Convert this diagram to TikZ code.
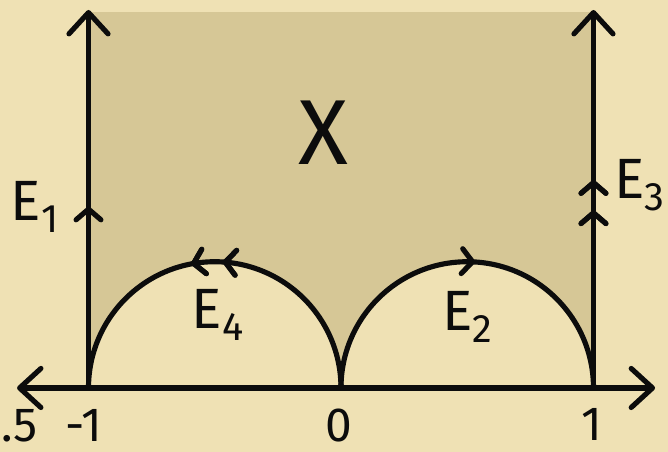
\documentclass[tikz,border=0pt]{standalone}
\usepackage{fontspec}
\setmainfont{Fira Sans}
\usepackage{tikz}
\usetikzlibrary{arrows.meta,decorations.markings}
\definecolor{parchment}{RGB}{239,225,180}
\definecolor{shadetan}{RGB}{214,199,150}
\definecolor{ink}{RGB}{12,12,12}

\tikzset{
  bigbarb/.tip={Straight Barb[length=12pt,width=22pt,round]},
  smallbarb/.tip={Straight Barb[length=6pt,width=14pt,round]}
}

\begin{document}
\begin{tikzpicture}[
  scale=5,
  axis/.style={bigbarb-bigbarb, line width=2.9pt, ink, line cap=round},
  ray/.style={-bigbarb, line width=2.9pt, ink, line cap=round},
  edge/.style={line width=2.9pt, ink, line cap=round},
  flow/.style={postaction={decorate}, decoration={markings,
    mark=at position #1 with {\arrow{smallbarb}}}},
  lbl/.style={font=\fontsize{32}{34}\selectfont, ink, inner sep=0pt},
  tick/.style={font=\fontsize{27}{29}\selectfont, ink, inner sep=0pt}
]

% background and bounding box
\fill[parchment] (-1.3505,-0.2535) rectangle (1.2951,1.5366);
\useasboundingbox (-1.3505,-0.2535) rectangle (1.2951,1.5366);

\coordinate (O) at (0,0);
\coordinate (L) at (-1,0);
\coordinate (R) at (1,0);
\coordinate (Lt) at (-1,1.497);
\coordinate (Rt) at (1,1.497);
\coordinate (xl) at (-1.283,0);
\coordinate (xr) at (1.244,0);

% shaded region X
\fill[shadetan] (L) -- (-1,1.489) -- (1,1.489) -- (R)
  arc[start angle=0, end angle=180, radius=0.5]
  arc[start angle=0, end angle=180, radius=0.5] -- cycle;

% axis and sides
\draw[axis] (xl) -- (xr);
\draw[ray, flow=0.48] (L) -- (Lt);
\draw[ray, flow=0.47, flow=0.55] (R) -- (Rt);
\draw[edge, flow=0.48, flow=0.56] (O) arc[start angle=0, end angle=180, radius=0.5];
\draw[edge, flow=0.52] (O) arc[start angle=180, end angle=0, radius=0.5];

% labels
\node[lbl, font=\fontsize{52}{54}\selectfont] (X) at (-0.071,1.01) {X};
\node[lbl] (e1) at (-1.212,0.717) {E\textsubscript{1}};
\node[lbl] (e3) at (1.184,0.804) {E\textsubscript{3}};
\node[lbl] (e4) at (-0.487,0.289) {E\textsubscript{4}};
\node[lbl] (e2) at (0.503,0.281) {E\textsubscript{2}};

% tick labels
\node[tick] (t15) at (-1.274,-0.150) {.5};
\node[tick] (tm1) at (-1.018,-0.150) {-1};
\node[tick] (t0) at (-0.008,-0.148) {0};
\node[tick] (t1) at (0.994,-0.146) {1};

\end{tikzpicture}
\end{document}
